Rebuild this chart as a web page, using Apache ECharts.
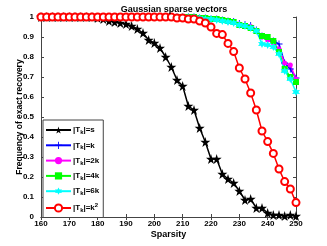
<!DOCTYPE html>
<html><head><meta charset="utf-8">
<script src="https://cdn.jsdelivr.net/npm/echarts@6/dist/echarts.min.js"></script>
<style>html,body{margin:0;padding:0;background:#fff}#c{width:327px;height:246px}</style>
</head><body><div id="c"></div>
<script>
const sparsity = [160,162,164,166,168,170,172,174,176,178,180,182,184,186,188,190,192,194,196,198,200,202,204,206,208,210,212,214,216,218,220,222,224,226,228,230,232,234,236,238,240,242,244,246,248,250];
const xTicks = [160,170,180,190,200,210,220,230,240,250];
const yTicks = [0,0.1,0.2,0.3,0.4,0.5,0.6,0.7,0.8,0.9,1];
const seriesNames = ['|T{sub|k}|=s','|T{sub|k}|=k','|T{sub|k}|=2k','|T{sub|k}|=4k','|T{sub|k}|=6k','|T{sub|k}|=k{sup|2}'];
const valS  = [1,1,1,1,1,1,1,1,1,1,0.995,0.99,0.98,0.975,0.97,0.965,0.955,0.94,0.92,0.885,0.87,0.845,0.80,0.75,0.685,0.655,0.555,0.535,0.445,0.375,0.29,0.29,0.215,0.19,0.17,0.13,0.085,0.09,0.045,0.045,0.02,0.01,0.01,0.005,0.01,0.005];
const valK  = [1,1,1,1,1,1,1,1,1,1,1,1,1,1,1,1,1,1,1,1,1,1,1,1,1,1,1,1,0.995,0.995,0.99,0.99,0.985,0.98,0.978,0.968,0.962,0.958,0.935,0.905,0.89,0.88,0.865,0.77,0.74,0.695];
const val2K = [1,1,1,1,1,1,1,1,1,1,1,1,1,1,1,1,1,1,1,1,1,1,1,1,1,1,1,1,0.995,0.99,0.99,0.99,0.985,0.98,0.978,0.965,0.958,0.952,0.93,0.9,0.885,0.87,0.84,0.77,0.76,0.69];
const val4K = [1,1,1,1,1,1,1,1,1,1,1,1,1,1,1,1,1,1,1,1,1,1,1,1,1,1,1,1,0.995,0.995,0.99,0.99,0.985,0.98,0.975,0.96,0.955,0.945,0.93,0.905,0.9,0.88,0.825,0.74,0.7,0.675];
const val6K = [1,1,1,1,1,1,1,1,1,1,1,1,1,1,1,1,1,1,1,1,1,1,1,1,1,1,1,1,0.995,0.99,0.99,0.985,0.98,0.975,0.97,0.96,0.955,0.945,0.93,0.865,0.86,0.85,0.815,0.73,0.69,0.625];
const valK2 = [1,1,1,1,1,1,1,1,1,1,1,1,1,1,1,1,1,1,1,1,1,1,1,1,0.995,0.995,0.99,0.99,0.98,0.97,0.95,0.918,0.912,0.868,0.827,0.745,0.69,0.62,0.535,0.43,0.377,0.318,0.24,0.177,0.14,0.072];

const STAR = 'path://M50,0 L61,35 L98,35 L68,57 L79,91 L50,70 L21,91 L32,57 L2,35 L39,35 Z';
const PLUS = 'path://M44,0 H56 V44 H100 V56 H56 V100 H44 V56 H0 V44 H44 Z';
const HEX = 'path://M50,0 L62,28 L93,25 L75,50 L93,75 L62,72 L50,100 L38,72 L7,75 L25,50 L7,25 L38,28 Z';
const FONT = 'Liberation Sans';

function mk(name, vals, color, symbol, size, extra) {
  return Object.assign({
    name: name, type: 'line',
    data: sparsity.map((x, i) => [x, vals[i]]),
    symbol: symbol, symbolSize: size,
    lineStyle: { color: color, width: 1.5 },
    itemStyle: { color: color },
    emphasis: { disabled: true },
    animation: false
  }, extra || {});
}

const chart = echarts.init(document.getElementById('c'), null, { renderer: 'canvas' });
const axisLine = { show: true, lineStyle: { color: '#444', width: 1 } };
chart.setOption({
  animation: false,
  title: {
    text: 'Gaussian sparse vectors', left: 169, top: 0, textAlign: 'center',
    textStyle: { fontFamily: FONT, fontSize: 9, fontWeight: 'bold', color: '#000' }
  },
  grid: { left: 41, right: 31, top: 17, bottom: 29, containLabel: false, outerBoundsMode: 'none' },
  legend: {
    orient: 'vertical', left: 43, top: 120, padding: [6, 4, 4, 2],
    itemWidth: 25, itemHeight: 9, itemGap: 5.8,
    backgroundColor: '#fff', borderColor: '#444', borderWidth: 1,
    data: seriesNames,
    textStyle: {
      fontFamily: FONT, fontSize: 8, fontWeight: 'bold', color: '#000', padding: [0, 0, 0, -3],
      rich: {
        sub: { fontFamily: FONT, fontSize: 6, fontWeight: 'bold', color: '#000', padding: [5, 0, 0, 0] },
        sup: { fontFamily: FONT, fontSize: 6, fontWeight: 'bold', color: '#000', padding: [0, 0, 5, 0] }
      }
    }
  },
  xAxis: [{
    type: 'value', min: xTicks[0], max: xTicks[xTicks.length - 1], interval: 10,
    name: 'Sparsity', nameLocation: 'middle', nameGap: 13, nameMoveOverlap: false,
    nameTextStyle: { fontFamily: FONT, fontSize: 9, fontWeight: 'bold', color: '#000' },
    axisLine: axisLine, axisTick: { show: true, inside: true, length: 3, lineStyle: { color: '#444' } },
    axisLabel: { fontFamily: FONT, fontSize: 8, fontWeight: 'bold', color: '#000', margin: 3, hideOverlap: false },
    splitLine: { show: false }
  }, {
    type: 'value', position: 'top', min: xTicks[0], max: xTicks[xTicks.length - 1], interval: 10,
    axisLine: axisLine, axisTick: { show: true, inside: true, length: 3, lineStyle: { color: '#444' } },
    axisLabel: { show: false }, splitLine: { show: false }
  }],
  yAxis: [{
    type: 'value', min: 0, max: 1, interval: 0.1,
    name: 'Frequency of exact recovery', nameLocation: 'middle', nameGap: 17, nameMoveOverlap: false,
    nameTextStyle: { fontFamily: FONT, fontSize: 8.5, fontWeight: 'bold', color: '#000' },
    axisLine: axisLine, axisTick: { show: true, inside: true, length: 3, lineStyle: { color: '#444' } },
    axisLabel: { fontFamily: FONT, fontSize: 8, fontWeight: 'bold', color: '#000', margin: 7,
      formatter: v => String(+v.toFixed(1)) },
    splitLine: { show: false }
  }, {
    type: 'value', position: 'right', min: 0, max: 1, interval: 0.1,
    axisLine: axisLine, axisTick: { show: true, inside: true, length: 3, lineStyle: { color: '#444' } },
    axisLabel: { show: false }, splitLine: { show: false }
  }],
  series: [
    mk(seriesNames[0], valS, '#000000', STAR, 10),
    mk(seriesNames[1], valK, '#0000ff', PLUS, 7),
    mk(seriesNames[2], val2K, '#ff00ff', 'circle', 5),
    mk(seriesNames[3], val4K, '#00ff00', 'rect', 6),
    mk(seriesNames[4], val6K, '#00ffff', HEX, 8),
    mk(seriesNames[5], valK2, '#ff0000', 'emptyCircle', 7, { itemStyle: { color: '#ff0000', borderWidth: 1.3 } })
  ]
});
</script></body></html>
